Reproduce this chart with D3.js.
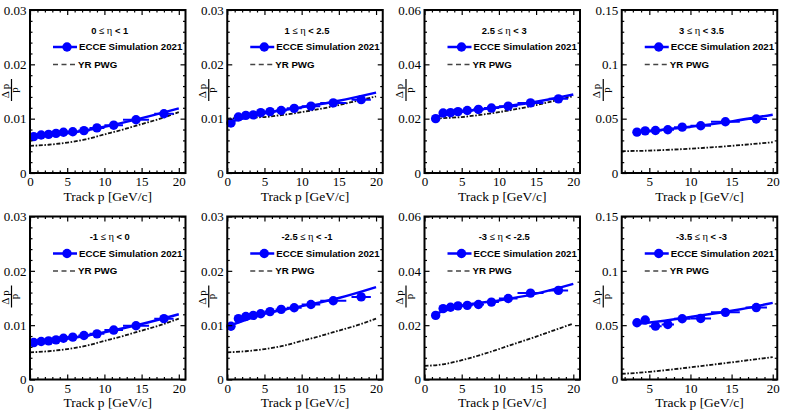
<!DOCTYPE html>
<html>
<head>
<meta charset="utf-8">
<script src="https://cdn.jsdelivr.net/npm/d3@7"></script>
<style>
  body { margin: 0; background: #fff; }
</style>
</head>
<body>
<div id="wrapper"></div>
<script>
// pseudorapidity ranges, one per pad (top row left to right, then bottom row)
const etaLow  = ["0", "1", "2.5", "3", "-1", "-2.5", "-3", "-3.5"]
const etaHigh = ["1", "2.5", "3", "3.5", "0", "-1", "-2.5", "-3"]

// y axis ranges and tick labels
const yMax = [0.03, 0.03, 0.06, 0.15, 0.03, 0.03, 0.06, 0.15]
const yTicks003 = [0, 0.01, 0.02, 0.03]
const yTicks006 = [0, 0.02, 0.04, 0.06]
const yTicks015 = [0, 0.05, 0.1, 0.15]
const xTicksFull = [0, 5, 10, 15, 20]
const xTicksFar  = [5, 10, 15, 20]

// momentum bins (centre and half width, GeV/c)
const pCenter    = [0.5, 1.5, 2.5, 3.5, 4.5, 5.75, 7.25, 9, 11.25, 14.25, 18]
const pHalfWidth = [0.5, 0.5, 0.5, 0.5, 0.5, 0.75, 0.75, 1, 1.25, 1.75, 1.3]

// ECCE simulation dp/p (null = no point)
const resEta0to1   = [0.0067, 0.0070, 0.0071, 0.0073, 0.0075, 0.0076, 0.0078, 0.0083, 0.0088, 0.0098, 0.0109]
const resEta1to25  = [0.0092, 0.0103, 0.0106, 0.0107, 0.0111, 0.0113, 0.0115, 0.0119, 0.0123, 0.0129, 0.0135]
const resEta25to3  = [null, 0.0200, 0.0221, 0.0222, 0.0226, 0.0230, 0.0234, 0.0239, 0.0246, 0.0258, 0.0273]
const resEta3to35  = [null, null, null, 0.0376, 0.0388, 0.0391, 0.0398, 0.0422, 0.0435, 0.0472, 0.0497]
const resEtaM1to0  = [0.0068, 0.0070, 0.0071, 0.0073, 0.0076, 0.0078, 0.0081, 0.0084, 0.0091, 0.0099, 0.0112]
const resEtaM25toM1 = [0.0098, 0.0112, 0.0116, 0.0118, 0.0121, 0.0125, 0.0129, 0.0132, 0.0138, 0.0145, 0.0152]
const resEtaM3toM25 = [null, 0.0236, 0.0261, 0.0266, 0.0271, 0.0273, 0.0276, 0.0285, 0.0298, 0.0318, 0.0328]
const resEtaM35toM3 = [null, null, null, 0.0522, 0.0547, 0.0491, 0.0506, 0.0559, 0.0562, 0.0618, 0.0662]

// fit curves as [p, dp/p]
const fitEta0to1    = [[0.3, 0.0066], [5, 0.0073], [10, 0.0085], [15, 0.0101], [20, 0.0119]]
const fitEta1to25   = [[0.3, 0.0094], [5, 0.0110], [10, 0.0121], [15, 0.0133], [20, 0.0148]]
const fitEta25to3   = [[1.3, 0.0206], [5, 0.0225], [10, 0.0242], [15, 0.0262], [20, 0.0289]]
const fitEta3to35   = [[3.3, 0.0373], [5, 0.0385], [10, 0.0425], [15, 0.0475], [20, 0.0537]]
const fitEtaM1to0   = [[0.3, 0.0068], [5, 0.0075], [10, 0.0087], [15, 0.0102], [20, 0.0120]]
const fitEtaM25toM1 = [[0.3, 0.0099], [5, 0.0121], [10, 0.0135], [15, 0.0150], [20, 0.0170]]
const fitEtaM3toM25 = [[1.3, 0.0240], [5, 0.0271], [10, 0.0291], [15, 0.0316], [20, 0.0352]]
const fitEtaM35toM3 = [[3.3, 0.0512], [5, 0.0525], [10, 0.0575], [15, 0.0632], [20, 0.0705]]

// YR PWG requirement curves
const yrP     = [0, 2.5, 5, 7.5, 10, 12.5, 15, 17.5, 20]
const yrPFwd  = [1.35, 2.5, 5, 7.5, 10, 12.5, 15, 17.5, 20]
const yrPFar  = [1.65, 2.5, 5, 7.5, 10, 12.5, 15, 17.5, 20]
const yrBarrel  = [0.0050, 0.0052, 0.0056, 0.0062, 0.0071, 0.0080, 0.0090, 0.0100, 0.0112]
const yrMid     = [0.0100, 0.0102, 0.0103, 0.0107, 0.0112, 0.0118, 0.0125, 0.0133, 0.0141]
const yrFwd     = [0.0200, 0.0202, 0.0206, 0.0214, 0.0224, 0.0236, 0.0250, 0.0266, 0.0283]
const yrFar     = [0.0201, 0.0202, 0.0206, 0.0214, 0.0224, 0.0236, 0.0250, 0.0266, 0.0283]
const yrBwd     = [0.0050, 0.0056, 0.0071, 0.0090, 0.0112, 0.0135, 0.0158, 0.0182, 0.0206]
const yrBwdFar  = [0.0053, 0.0056, 0.0071, 0.0090, 0.0112, 0.0135, 0.0158, 0.0182, 0.0206]

const resList = [resEta0to1, resEta1to25, resEta25to3, resEta3to35, resEtaM1to0, resEtaM25toM1, resEtaM3toM25, resEtaM35toM3]
const fitList = [fitEta0to1, fitEta1to25, fitEta25to3, fitEta3to35, fitEtaM1to0, fitEtaM25toM1, fitEtaM3toM25, fitEtaM35toM3]
const yrList  = [yrBarrel, yrMid, yrFwd, yrFar, yrBarrel, yrBarrel, yrBwd, yrBwdFar]
const yrPList = [yrP, yrP, yrPFwd, yrPFar, yrP, yrP, yrP, yrPFar]

// canvas layout
const width = 789
const height = 413
const padW = width / 4
const padH = height / 2
const frame = { left: 30, top: 10, width: 155.5, height: 163 }
const blue = "#0000ff"

const svg = d3.select("#wrapper")
  .append("svg")
    .attr("width", width)
    .attr("height", height)
    .style("font-family", "'Liberation Serif', 'Times New Roman', serif")

function yTicksFor(m) {
  return m === 0.03 ? yTicks003 : m === 0.06 ? yTicks006 : yTicks015
}

function fmt(v) {
  return v === 0 ? "0" : String(+v.toFixed(3))
}

resList.forEach((res, k) => {
  const col = k % 4
  const row = Math.floor(k / 4)
  const far = col === 3
  const xDomain = far ? [1.65, 20.55] : [0, 20.9]
  const yTicks = yTicksFor(yMax[k])

  const pad = svg.append("g")
    .attr("transform", `translate(${col * padW + frame.left}, ${row * padH + frame.top})`)

  const x = d3.scaleLinear().domain(xDomain).range([0, frame.width])
  const y = d3.scaleLinear().domain([0, yMax[k]]).range([frame.height, 0])

  // clip region for the curves
  const clipId = `clip${k}`
  pad.append("clipPath").attr("id", clipId)
    .append("rect").attr("width", frame.width).attr("height", frame.height)

  const plot = pad.append("g").attr("clip-path", `url(#${clipId})`)

  // YR PWG curve
  const yrPts = yrPList[k].map((p, i) => [p, yrList[k][i]])
  plot.append("path")
    .datum(yrPts)
    .attr("d", d3.line().x(d => x(d[0])).y(d => y(d[1])).curve(d3.curveMonotoneX))
    .attr("fill", "none")
    .attr("stroke", "#111")
    .attr("stroke-width", 1.8)
    .attr("stroke-dasharray", "4,1.6,1.6,1.6")

  // fit curve
  plot.append("path")
    .datum(fitList[k])
    .attr("d", d3.line().x(d => x(d[0])).y(d => y(d[1])).curve(d3.curveMonotoneX))
    .attr("fill", "none")
    .attr("stroke", blue)
    .attr("stroke-width", 2.5)

  const pts = pCenter.map((p, i) => ({ p: p, v: res[i], hw: pHalfWidth[i] }))
    .filter(d => d.v !== null)

  // horizontal error bars
  plot.selectAll(".xerr").data(pts).join("line")
    .attr("x1", d => x(d.p - d.hw)).attr("x2", d => x(d.p + d.hw))
    .attr("y1", d => y(d.v)).attr("y2", d => y(d.v))
    .attr("stroke", blue).attr("stroke-width", 2)

  // markers
  pad.selectAll(".pt").data(pts).join("circle")
    .attr("cx", d => x(d.p))
    .attr("cy", d => y(d.v))
    .attr("r", 4.7)
    .attr("fill", blue)

  // axes: inward ticks on all four sides
  const xMajor = far ? xTicksFar : xTicksFull
  const xMinor = d3.range(Math.ceil(xDomain[0]), Math.floor(xDomain[1]) + 1).filter(v => !xMajor.includes(v))
  const yStep = yTicks[1] / 5
  const yMinor = d3.range(1, Math.round(yMax[k] / yStep)).map(i => i * yStep)
    .filter((v, i) => (i + 1) % 5 !== 0)

  function styleAxis(g) {
    g.select(".domain").remove()
    g.selectAll("line").attr("stroke", "#000").attr("stroke-width", 1.2)
    g.selectAll("text")
      .attr("fill", "#000")
      .style("font-family", "'Liberation Serif', 'Times New Roman', serif")
      .style("font-size", "13px")
  }

  pad.append("g")
    .attr("transform", `translate(0, ${frame.height})`)
    .call(d3.axisBottom(x).tickValues(xMajor).tickSize(-5).tickPadding(3.8).tickFormat(d3.format("d")))
    .call(styleAxis)
  pad.append("g")
    .attr("transform", `translate(0, ${frame.height})`)
    .call(d3.axisBottom(x).tickValues(xMinor).tickSize(-2.5).tickFormat(""))
    .call(styleAxis)
  pad.append("g")
    .call(d3.axisTop(x).tickValues(xMajor).tickSize(-5).tickFormat(""))
    .call(styleAxis)
  pad.append("g")
    .call(d3.axisTop(x).tickValues(xMinor).tickSize(-2.5).tickFormat(""))
    .call(styleAxis)

  pad.append("g")
    .call(d3.axisLeft(y).tickValues(yTicks).tickSize(-5).tickPadding(3.5).tickFormat(fmt))
    .call(styleAxis)
  pad.append("g")
    .call(d3.axisLeft(y).tickValues(yMinor).tickSize(-2.5).tickFormat(""))
    .call(styleAxis)
  pad.append("g")
    .attr("transform", `translate(${frame.width}, 0)`)
    .call(d3.axisRight(y).tickValues(yTicks).tickSize(-5).tickFormat(""))
    .call(styleAxis)
  pad.append("g")
    .attr("transform", `translate(${frame.width}, 0)`)
    .call(d3.axisRight(y).tickValues(yMinor).tickSize(-2.5).tickFormat(""))
    .call(styleAxis)

  // frame
  pad.append("rect")
    .attr("width", frame.width)
    .attr("height", frame.height)
    .attr("fill", "none")
    .attr("stroke", "#000")
    .attr("stroke-width", 2)

  // x title
  pad.append("text")
    .attr("x", frame.width / 2)
    .attr("y", frame.height + 27.5)
    .attr("text-anchor", "middle")
    .style("font-size", "13.5px")
    .text("Track p [GeV/c]")

  // y title: fraction dp over p
  const yTitle = pad.append("g")
    .attr("transform", `translate(${-frame.left + 11.5}, ${frame.height / 2 - 1.5}) rotate(-90)`)
  yTitle.append("text")
    .attr("y", -3)
    .attr("text-anchor", "middle")
    .style("font-size", "11px")
    .style("letter-spacing", "2px")
    .text("Δp")
  yTitle.append("line")
    .attr("x1", -11).attr("x2", 11)
    .attr("stroke", "#000").attr("stroke-width", 1.2)
  yTitle.append("text")
    .attr("y", 6.5)
    .attr("text-anchor", "middle")
    .style("font-size", "11px")
    .text("p")

  // legend
  const leg = pad.append("g")
    .style("font-family", "'Liberation Sans', Arial, sans-serif")
    .style("font-weight", "bold")
    .style("font-size", "9.7px")

  const header = leg.append("text")
    .attr("x", frame.width / 2 + 2)
    .attr("y", 20.5)
    .attr("dy", "0.35em")
    .attr("text-anchor", "middle")
    .style("font-size", "9.4px")
  header.append("tspan").text(etaLow[k] + " ")
  header.append("tspan").style("font-weight", "normal").text("≤ ")
  header.append("tspan").style("font-weight", "normal")
    .style("font-family", "'Liberation Serif', serif").style("font-size", "10.5px").text("η")
  header.append("tspan").text(" < " + etaHigh[k])

  leg.append("line")
    .attr("x1", 23).attr("x2", 47).attr("y1", 37).attr("y2", 37)
    .attr("stroke", blue).attr("stroke-width", 2.5)
  leg.append("circle")
    .attr("cx", 37).attr("cy", 37).attr("r", 4.7).attr("fill", blue)
  leg.append("text")
    .attr("x", 49).attr("y", 37).attr("dy", "0.35em")
    .text("ECCE Simulation 2021")

  leg.append("line")
    .attr("x1", 23).attr("x2", 45).attr("y1", 54.5).attr("y2", 54.5)
    .attr("stroke", "#444").attr("stroke-width", 1.5)
    .attr("stroke-dasharray", "5,3.5")
  leg.append("text")
    .attr("x", 48).attr("y", 54.5).attr("dy", "0.35em")
    .text("YR PWG")
})
</script>
</body>
</html>
